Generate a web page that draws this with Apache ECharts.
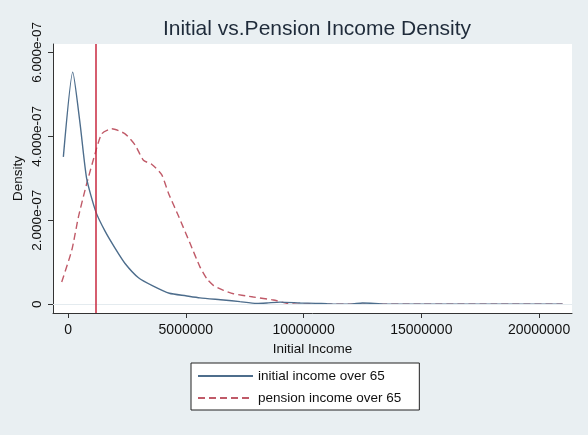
<!DOCTYPE html>
<html>
<head>
<meta charset="utf-8">
<script src="https://cdn.jsdelivr.net/npm/echarts@6/dist/echarts.min.js"></script>
<style>
  html, body { margin: 0; padding: 0; background: #e9eff2; }
  #chart { width: 588px; height: 435px; }
</style>
</head>
<body>
<div id="chart"></div>
<script>
// initial income density (x in income, y in density)
const initialX = [-200000, 200000, 510000, 790000, 1180000, 1570000, 2000000, 2420000, 2990000, 3620000, 4300000, 5000000, 5600000, 6600000, 7300000, 8000000, 8440000, 9000000, 9860000, 10500000, 11000000, 11500000, 12000000, 12500000, 13000000, 13500000, 15000000, 18000000, 21000000]
const initialY = [3.51e-7, 5.53e-7, 4.3e-7, 2.99e-7, 2.2e-7, 1.74e-7, 1.33e-7, 0.97e-7, 0.63e-7, 0.43e-7, 0.26e-7, 0.2e-7, 0.15e-7, 0.1e-7, 0.06e-7, 0.02e-7, 0.03e-7, 0.05e-7, 0.03e-7, 0.02e-7, 0.01e-7, 0, 0, 0.03e-7, 0.02e-7, 0, 0, 0, 0]

// pension income density
const pensionX = [-270000, 160000, 440000, 790000, 1150000, 1430000, 1860000, 2420000, 2850000, 3200000, 3560000, 3980000, 4260000, 4690000, 5180000, 5600000, 5900000, 6170000, 6600000, 7020000, 7870000, 8720000, 9290000, 9860000, 10500000, 11000000, 12000000, 13000000, 15000000, 18000000, 21000000]
const pensionY = [0.53e-7, 1.29e-7, 2.08e-7, 2.87e-7, 3.59e-7, 4.06e-7, 4.18e-7, 4.06e-7, 3.79e-7, 3.43e-7, 3.33e-7, 3.08e-7, 2.65e-7, 2.1e-7, 1.45e-7, 0.89e-7, 0.6e-7, 0.45e-7, 0.33e-7, 0.25e-7, 0.17e-7, 0.1e-7, 0.02e-7, 0, 0.01e-7, 0, 0, 0, 0, 0, 0]

// axis ticks
const xTicks = [0, 5000000, 10000000, 15000000, 20000000]
const yTicks = [0, 2e-7, 4e-7, 6e-7]

// reference line
const refLineX = 1180000

const font = 'Liberation Sans, Arial, sans-serif'
const zip = (xs, ys) => xs.map((x, i) => [x, ys[i]])

const fmtY = v => v === 0 ? '0' : v.toExponential(3).replace(/e([+-])(\d)$/, 'e$10$2')

const chart = echarts.init(document.getElementById('chart'))

const gridLines = yTicks.map(v => ({
    yAxis: v,
    lineStyle: { color: '#e4ebef', width: 1, type: 'solid' }
}))

chart.setOption({
    backgroundColor: '#e9eff2',
    animation: false,
    textStyle: { fontFamily: font },
    title: {
        text: 'Initial vs.Pension Income Density',
        left: 312,
        textAlign: 'center',
        top: 14,
        textStyle: { fontFamily: font, fontSize: 21, fontWeight: 'normal', color: '#1f2b3a' }
    },
    grid: {
        left: 53, right: 16, top: 44, bottom: 122,
        outerBoundsMode: 'none',
        containLabel: false,
        show: true, backgroundColor: '#ffffff', borderWidth: 0
    },
    legend: {
        left: 191, top: 363,
        orient: 'vertical',
        backgroundColor: '#ffffff',
        borderColor: '#222',
        borderWidth: 1,
        padding: [6, 18, 5, 6],
        itemWidth: 55, itemHeight: 14, itemGap: 8,
        itemStyle: { opacity: 0, borderWidth: 0 },
        textStyle: { fontFamily: font, fontSize: 13.5, color: '#111' }
    },
    xAxis: {
        type: 'value',
        min: -640000, max: 21400000,
        name: 'Initial Income',
        nameLocation: 'middle',
        nameGap: 27,
        nameTextStyle: { fontFamily: font, fontSize: 13.5, color: '#111' },
        axisLine: { onZero: false, lineStyle: { color: '#333', width: 1 } },
        axisTick: { show: true, length: 5, customValues: xTicks, lineStyle: { color: '#333' } },
        axisLabel: { customValues: xTicks, margin: 10, fontSize: 14, color: '#111', formatter: v => String(v) },
        splitLine: { show: false }
    },
    yAxis: {
        type: 'value',
        min: -2.1e-8, max: 6.2e-7,
        name: 'Density',
        nameLocation: 'middle',
        nameGap: 28,
        nameMoveOverlap: false,
        nameTextStyle: { fontFamily: font, fontSize: 13.5, color: '#111' },
        axisLine: { show: true, onZero: false, lineStyle: { color: '#333', width: 1 } },
        axisTick: { show: true, length: 5, customValues: yTicks, lineStyle: { color: '#333' } },
        axisLabel: { customValues: yTicks, rotate: 90, margin: 9, fontSize: 13.5, color: '#111', formatter: fmtY },
        splitLine: { show: false }
    },
    series: [
        {
            name: 'initial income over 65',
            type: 'line',
            data: zip(initialX, initialY),
            showSymbol: false,
            symbol: 'none',
            smooth: 0.2,
            z: 3,
            lineStyle: { color: '#4d6d8c', width: 1.4 },
            itemStyle: { color: '#4d6d8c' },
            markLine: {
                silent: true,
                symbol: 'none',
                label: { show: false },
                data: gridLines.concat([{
                    xAxis: refLineX,
                    lineStyle: { color: '#c8283f', width: 1.5, type: 'solid' }
                }])
            }
        },
        {
            name: 'pension income over 65',
            type: 'line',
            data: zip(pensionX, pensionY),
            showSymbol: false,
            symbol: 'none',
            smooth: 0.2,
            z: 2,
            lineStyle: { color: '#c05a68', width: 1.4, type: [7, 4] },
            itemStyle: { color: '#c05a68' }
        }
    ]
})
</script>
</body>
</html>
